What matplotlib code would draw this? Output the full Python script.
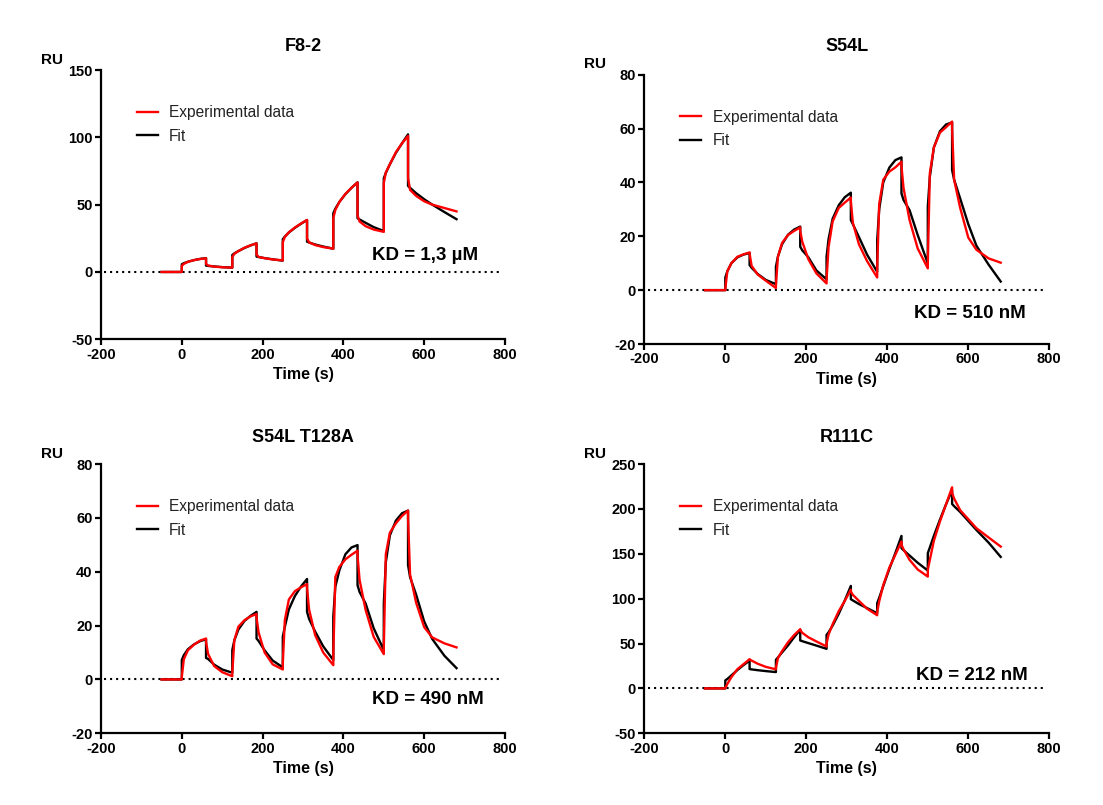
import matplotlib
matplotlib.use("Agg")
import matplotlib.pyplot as plt

plt.rcParams['font.family'] = ['Liberation Sans', 'DejaVu Sans']
plt.rcParams['axes.unicode_minus'] = False

# ---------------- data ----------------
time_s = [-50, 0, 0, 5, 15, 30, 45, 60, 60, 65, 80, 100, 125,
          125, 130, 140, 155, 170, 185, 185, 190, 205, 225, 250,
          250, 255, 265, 280, 295, 310, 310, 315, 330, 350, 375,
          375, 380, 390, 405, 420, 435, 435, 440, 455, 475, 500,
          500, 505, 515, 530, 545, 560, 560, 565, 580, 600, 620, 650, 680]

f82_exp = [0, 0, 4.5, 6, 7.5, 8.8, 9.6, 10.2, 6, 4.8, 4.0, 3.5, 3.2,
           11, 13.5, 15.5, 18, 19.8, 21.2, 13, 11.2, 10.2, 9.3, 8.6,
           22, 26, 29.5, 33, 36, 38.6, 25, 22, 20, 18.5, 17.3,
           40, 46, 52, 58, 62.5, 66.5, 42, 37.5, 34, 31.5, 29.8,
           66, 74, 80, 89, 95.5, 101, 70, 61, 56.5, 52.5, 50, 47.5, 45]
f82_fit = [0, 0, 5.7, 6.5, 7.6, 8.8, 9.7, 10.3, 4.7, 4.5, 4.1, 3.6, 3.2,
           12.6, 13.8, 15.5, 17.8, 19.7, 21.3, 11.4, 11.1, 10.3, 9.4, 8.4,
           24.3, 26.3, 29.3, 32.8, 35.8, 38.6, 22.5, 21.9, 20.4, 18.9, 17.3,
           43.6, 47, 52, 57.8, 62.5, 66.6, 39.9, 39, 36.5, 33.3, 30.4,
           69.6, 73.5, 80, 88.5, 95.5, 102.2, 63.9, 62.5, 58.5, 54, 50, 44.5, 39.2]

s54l_exp = [0, 0, 0.5, 7, 10, 12.4, 13.3, 14, 13.5, 9.0, 5.8, 3.5, 0.8,
            2, 12.4, 17.5, 20.5, 22, 23.3, 22, 18, 11.5, 6.2, 2.5,
            4, 16, 25.5, 30.5, 32.5, 34.4, 33, 25, 17, 10.8, 4.7,
            8, 32, 41, 44, 45.6, 47.7, 46, 38, 26, 15.5, 8.1,
            10, 43.4, 53, 58.5, 60.5, 62.6, 60, 41, 30.5, 19.5, 15, 11.8, 10.2]
s54l_fit = [0, 0, 4.7, 7, 10, 12.2, 13.2, 13.8, 9.3, 8.3, 6, 3.8, 2.2,
            8.7, 12.5, 17, 20.6, 22.5, 23.6, 16.1, 14.8, 12.2, 7.3, 4.0,
            12.4, 19, 26.5, 31.5, 34.5, 36.2, 26, 24.5, 19.7, 13.2, 6.8,
            18.5, 30, 40, 45.5, 48.3, 49.3, 35.9, 33.5, 29.7, 20.5, 9.9,
            31, 42, 53, 59, 61.5, 62.3, 44.6, 41, 34, 24.5, 16.5, 9.5, 3.2]

t128a_exp = [0, 0, 1, 7.5, 10.8, 12.9, 14.4, 15.2, 14, 9.5, 5, 2.7, 1.2,
             2.5, 14.5, 19.6, 22, 23.4, 24.3, 23, 17.5, 10, 5.6, 3.7,
             6, 22, 29.7, 32.8, 34.2, 35.4, 34, 26, 16.5, 10, 5.3,
             9, 38, 41.8, 44.6, 46.3, 47.8, 46, 37, 25.8, 15.8, 9.4,
             12, 46.5, 54.5, 58, 60.7, 62.7, 60, 39, 28.5, 19.4, 15.6, 13.4, 11.9]
t128a_fit = [0, 0, 7.2, 9, 11.2, 13, 14.2, 14.9, 8, 7.6, 5.5, 3.7, 2.5,
             10.9, 14.5, 18.5, 21.7, 23.6, 25.1, 15.2, 14.3, 10.8, 7, 4.5,
             15.9, 19.5, 26, 31, 34.5, 37.3, 25.1, 22.5, 17.8, 12.3, 7.2,
             23.3, 34.4, 40.5, 46.5, 49, 49.9, 35, 32.5, 28.2, 19, 10.9,
             28.2, 43.5, 53.5, 59, 61.7, 62.7, 42.5, 38, 31.5, 21.5, 15, 8.8, 4.2]

r111c_exp = [0, 0, 0.5, 5, 12.5, 21.5, 27, 32.6, 32.2, 31, 27.5, 24, 21.3,
             23, 33.8, 41.5, 51.5, 59.5, 66, 65, 62, 57, 52.3, 46.7,
             50, 60, 71.5, 86, 97.5, 110, 108, 104.2, 97.5, 88.8, 81.5,
             85, 97, 115, 134.5, 149, 163.6, 160, 155, 143.2, 132.5, 124.6,
             132, 143.2, 164.5, 186, 205, 224, 218, 211.5, 198.5, 188.5, 178.5, 168.2, 158]
r111c_fit = [0, 0, 8.9, 10.5, 14.5, 20.5, 26, 31, 21.5, 21.2, 20.3, 19.3, 18.2,
             31.9, 34.5, 40, 48, 57, 65.3, 53.4, 52.6, 50.5, 47.7, 44.1,
             59.7, 62.5, 70, 83, 98, 114.2, 99.4, 98, 94, 89.5, 83.8,
             95, 101, 114, 133, 151, 169.9, 156.2, 154, 148, 140, 131.3,
             150.6, 157, 170, 188, 205, 221, 205.5, 203, 196.5, 186.5, 176.5, 162.5, 146.5]

titles = ["F8-2", "S54L", "S54L T128A", "R111C"]
kd_labels = ["KD = 1,3 \u00b5M", "KD = 510 nM", "KD = 490 nM", "KD = 212 nM"]
exp_series = [f82_exp, s54l_exp, t128a_exp, r111c_exp]
fit_series = [f82_fit, s54l_fit, t128a_fit, r111c_fit]
y_limits = [(-50, 150), (-20, 80), (-20, 80), (-50, 250)]
y_steps = [50, 20, 20, 50]
x_ticks = [-200, 0, 200, 400, 600, 800]

# ---------------- layout ----------------
W, H = 1103, 805
fig = plt.figure(figsize=(W / 100, H / 100), dpi=100)

# axes boxes in pixels: left, top, right, bottom
boxes = [(101, 70, 505, 339.3), (644.3, 74.7, 1049.3, 344),
         (101, 464, 505, 733.3), (644.3, 464, 1049.3, 733.3)]
kd_pos = [(0.934, 0.313), (0.942, 0.114), (0.948, 0.124), (0.948, 0.216)]
title_y = [1.087, 1.103, 1.10, 1.10]

for i in range(4):
    l, t, r, b = boxes[i]
    ax = fig.add_axes([l / W, (H - b) / H, (r - l) / W, (b - t) / H])
    ax.plot(time_s, fit_series[i], color='black', lw=1.7, label='Fit', zorder=3)
    ax.plot(time_s, exp_series[i], color='#ff0000', lw=1.7, label='Experimental data', zorder=4)
    ax.axhline(0, xmin=0.008, xmax=0.99, color='black', lw=1.5, ls=(0, (1, 1.9)), zorder=2)

    ax.set_xlim(-200, 800)
    ax.set_ylim(*y_limits[i])
    ax.set_xticks(x_ticks)
    lo, hi = y_limits[i]
    ax.set_yticks(list(range(lo, hi + 1, y_steps[i])))
    for s in ['top', 'right']:
        ax.spines[s].set_visible(False)
    for s in ['left', 'bottom']:
        ax.spines[s].set_linewidth(1.6)
    ax.tick_params(direction='out', length=4, width=1.6, labelsize=10.5, pad=2)
    for lab in ax.get_xticklabels() + ax.get_yticklabels():
        lab.set_fontweight('bold')
    ax.set_xlabel("Time (s)", fontsize=11.5, fontweight='bold', labelpad=4)
    ax.text(-0.122, 1.038, "RU", transform=ax.transAxes, ha='center', va='center',
            fontsize=11, fontweight='bold')
    ax.text(0.5, title_y[i], titles[i], transform=ax.transAxes, ha='center', va='center',
            fontsize=13, fontweight='bold')
    ax.text(kd_pos[i][0], kd_pos[i][1], kd_labels[i], transform=ax.transAxes,
            ha='right', va='center', fontsize=13.5, fontweight='bold')

    handles, labels = ax.get_legend_handles_labels()
    leg = ax.legend(handles[::-1], labels[::-1], loc='upper left',
                    bbox_to_anchor=(0.088, 0.87), frameon=False, fontsize=11.2,
                    handlelength=1.35, handletextpad=0.75, labelspacing=0.55,
                    borderpad=0, borderaxespad=0)
    for txt in leg.get_texts():
        txt.set_color('#222222')

fig.savefig("out.png", dpi=100, facecolor='white')
